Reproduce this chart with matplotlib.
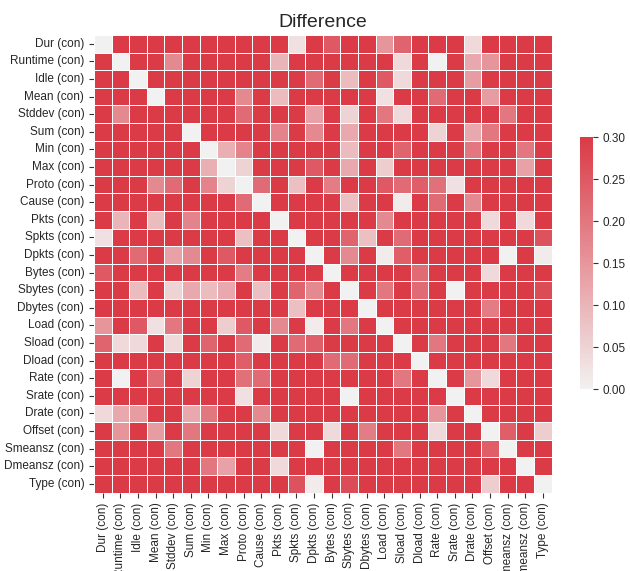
import numpy as np
import pandas as pd
import matplotlib
matplotlib.use("Agg")
import matplotlib.pyplot as plt
import seaborn as sns

features = ["Dur", "Runtime", "Idle", "Mean", "Stddev", "Sum", "Min", "Max",
            "Proto", "Cause", "Pkts", "Spkts", "Dpkts", "Bytes", "Sbytes",
            "Dbytes", "Load", "Sload", "Dload", "Rate", "Srate", "Drate",
            "Offset", "Smeansz", "Dmeansz", "Type"]
labels = [f"{f} (con)" for f in features]

# upper triangle of the difference matrix, each row starts at its diagonal
# values at 0.30 are saturated (>= 0.30 in the picture)
dur = [0, .3, .3, .3, .3, .3, .3, .3, .3, .3, .3, .03, .3, .25, .3, .3, .15, .23, .3, .3, .3, .04, .3, .3, .3, .3]
runtime = [0, .3, .3, .17, .3, .3, .3, .3, .3, .10, .3, .3, .3, .3, .3, .3, .04, .3, 0, .3, .12, .15, .3, .3, .3]
idle = [0, .3, .3, .3, .3, .3, .3, .3, .3, .3, .22, .3, .09, .3, .25, .04, .3, .3, .3, .14, .3, .3, .3, .3]
mean = [0, .3, .3, .3, .3, .17, .3, .09, .3, .3, .3, .3, .3, .03, .3, .3, .22, .3, .3, .14, .3, .3, .3]
stddev = [.3, .3, .3, .3, .22, .3, .3, .3, .13, .3, .05, .3, .20, .04, .3, .3, .3, .3, .3, .20, .3, .3]
sum_ = [0, .3, .3, .3, .3, .18, .3, .17, .3, .12, .3, .3, .3, .3, .05, .3, .12, .20, .3, .3, .3]
min_ = [0, .11, .18, .3, .3, .3, .3, .3, .09, .3, .3, .23, .3, .3, .3, .20, .3, .3, .20, .3]
max_ = [0, .05, .3, .3, .3, .25, .3, .12, .3, .06, .3, .3, .3, .3, .3, .3, .3, .13, .3]
proto = [0, .22, .3, .08, .3, .19, .3, .3, .25, .22, .24, .21, .03, .3, .3, .3, .3, .3]
cause = [0, .3, .3, .3, .3, .08, .3, .3, .01, .3, .22, .3, .17, .3, .3, .3, .3]
pkts = [0, .3, .3, .3, .3, .3, .17, .3, .3, .3, .3, .3, .04, .3, .04, .3]
spkts = [0, .3, .3, .23, .08, .3, .22, .3, .3, .3, .3, .3, .3, .3, .26]
dpkts = [0, .3, .17, .3, .01, .24, .3, .3, .3, .3, .3, 0, .3, .01]
bytes_ = [0, .3, .3, .3, .3, .22, .3, .3, .3, .04, .3, .3, .3]
sbytes = [0, .3, .20, .3, .22, .3, 0, .3, .3, .3, .3, .27]
dbytes = [0, .3, .3, .3, .3, .3, .3, .19, .3, .3, .3]
load = [0, .3, .3, .3, .3, .3, .3, .3, .3, .3]
sload = [0, .3, .20, .3, .3, .3, .20, .3, .3]
dload = [0, .3, .3, .3, .3, .3, .3, .3]
rate = [0, .3, .15, .04, .3, .3, .3]
srate = [0, .3, .3, .3, .3, .3]
drate = [0, .3, .3, .3, .3]
offset = [0, .24, .3, .06]
smeansz = [0, .3, .3]
dmeansz = [0, .3]
type_ = [0]

upper = [dur, runtime, idle, mean, stddev, sum_, min_, max_, proto, cause,
         pkts, spkts, dpkts, bytes_, sbytes, dbytes, load, sload, dload,
         rate, srate, drate, offset, smeansz, dmeansz, type_]

n = len(features)
mat = np.zeros((n, n))
for i, row in enumerate(upper):
    mat[i, i:] = row
    mat[i:, i] = row
diff = pd.DataFrame(mat, index=labels, columns=labels)

sns.set_style("ticks")
plt.rcParams["font.family"] = ["Liberation Sans", "DejaVu Sans"]

W, H = 630, 571
fig = plt.figure(figsize=(W / 100, H / 100), dpi=100)
ax = fig.add_axes([94 / W, 1 - 492.6 / H, 457.6 / W, 457.6 / H])
cax = fig.add_axes([580 / W, 1 - 389 / H, 13 / W, 252 / H])

cmap = sns.diverging_palette(220, 10, as_cmap=True)
sns.heatmap(diff, cmap=cmap, vmin=0, vmax=0.3, center=0, square=True,
            linewidths=.5, ax=ax, cbar_ax=cax,
            xticklabels=labels, yticklabels=labels)

ax.set_title("Difference", fontsize=14)
ax.tick_params(labelsize=8.5, length=3.5, color="#333333")
ax.set_xticklabels(labels, rotation=90)
ax.set_yticklabels(labels, rotation=0)
cax.tick_params(labelsize=8.5, length=3.5, color="#333333")
cax.set_yticks([0, .05, .1, .15, .2, .25, .3])
cax.set_yticklabels([f"{v:.2f}" for v in [0, .05, .1, .15, .2, .25, .3]])

plt.savefig("out.png", dpi=100)
plt.close()
